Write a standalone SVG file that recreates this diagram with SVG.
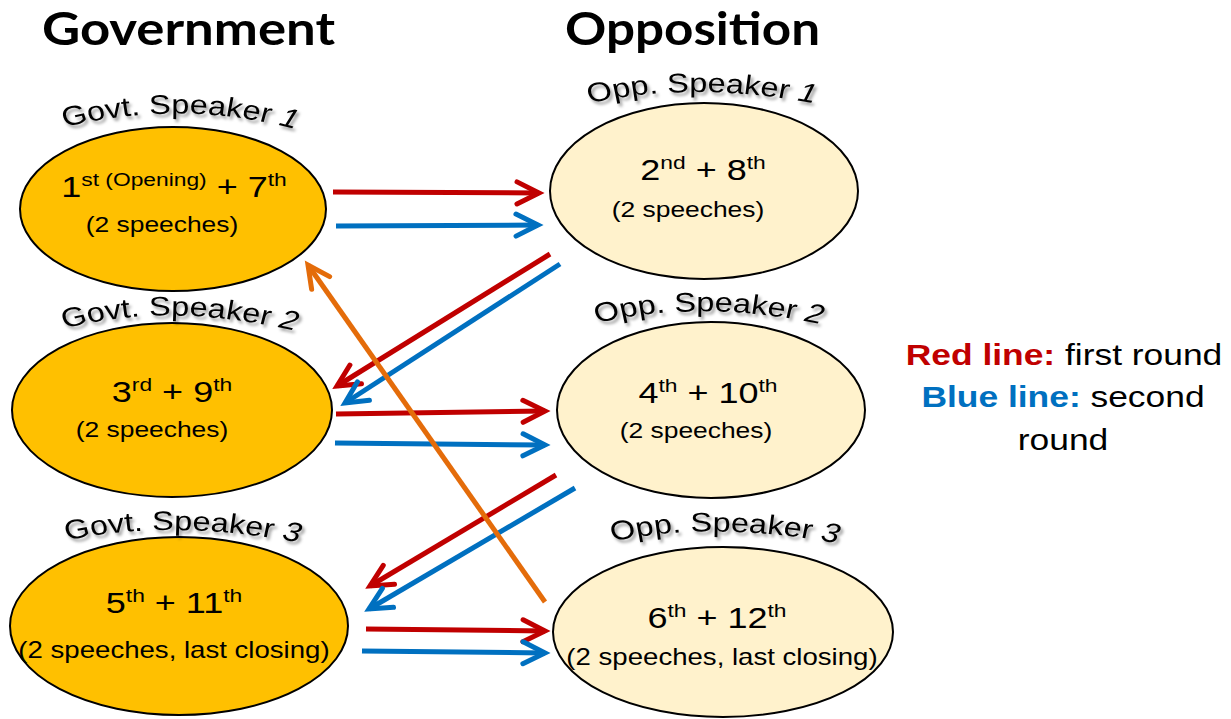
<svg xmlns="http://www.w3.org/2000/svg" width="1231" height="719" viewBox="0 0 1231 719">
<style>
.gov{fill:#FFC000;stroke:#000;stroke-width:2}
.opp{fill:#FFF2CC;stroke:#000;stroke-width:2}
.t{font-family:"Liberation Sans",Arial,sans-serif;fill:#000;text-anchor:middle}
.big{font-size:30px}
.sup{font-size:19px}
.sm{font-size:22px}
.sm2{font-size:23px}
.lab{font-family:"Liberation Sans",Arial,sans-serif;font-size:27px;fill:#000;filter:url(#sh)}
.title{font-family:Lato,"Open Sans",sans-serif;font-weight:bold;font-size:46px;fill:#000}
.leg{font-family:"Liberation Sans",Arial,sans-serif;font-size:30px;text-anchor:middle}
.r{stroke:#C00000;stroke-width:5;fill:none;marker-end:url(#ar)}
.b{stroke:#0070C0;stroke-width:5;fill:none;marker-end:url(#ab)}
.o{stroke:#E46C0A;stroke-width:5;fill:none;marker-end:url(#ao)}
</style>
<defs>
<filter id="sh" x="-10%" y="-30%" width="130%" height="180%">
<feDropShadow dx="2" dy="3" stdDeviation="1.5" flood-color="#000" flood-opacity="0.4"/>
</filter>
<marker id="ar" markerUnits="userSpaceOnUse" viewBox="0 0 34 34" refX="27" refY="17" markerWidth="34" markerHeight="34" orient="auto">
<path d="M5,6 L27,17 L5,28" fill="none" stroke="#C00000" stroke-width="5" stroke-linecap="round" stroke-linejoin="miter"/>
</marker>
<marker id="ab" markerUnits="userSpaceOnUse" viewBox="0 0 34 34" refX="27" refY="17" markerWidth="34" markerHeight="34" orient="auto">
<path d="M5,6 L27,17 L5,28" fill="none" stroke="#0070C0" stroke-width="5" stroke-linecap="round" stroke-linejoin="miter"/>
</marker>
<marker id="ao" markerUnits="userSpaceOnUse" viewBox="0 0 34 34" refX="27" refY="17" markerWidth="34" markerHeight="34" orient="auto">
<path d="M5,6 L27,17 L5,28" fill="none" stroke="#E46C0A" stroke-width="5" stroke-linecap="round" stroke-linejoin="miter"/>
</marker>
<path id="pg1" d="M-102,129 Q0,97 102,131"/>
<path id="po1" d="M-96,104 Q-10,80 96,104"/>
<path id="pg2" d="M-100,330 Q-12,300 100,332"/>
<path id="po2" d="M-96,324 Q-8,298 96,325"/>
<path id="pg3" d="M-99,541 Q-11,518 99,543"/>
<path id="po3" d="M-96,542 Q-10,520 96,544"/>
</defs>
<rect width="1231" height="719" fill="#fff"/>

<g id="titles">
<text class="title" x="42" y="45" textLength="293" lengthAdjust="spacingAndGlyphs">Government</text>
<text class="title" x="565" y="45" textLength="255" lengthAdjust="spacingAndGlyphs">Opposition</text>
</g>

<g id="gov1">
<ellipse class="gov" cx="173" cy="209" rx="153" ry="82"/>
<g transform="translate(180 0) scale(1.2 1)"><text class="lab"><textPath href="#pg1" startOffset="50%" text-anchor="middle">Govt. Speaker <tspan font-style="italic">1</tspan></textPath></text></g>
<g transform="translate(174 0) scale(1.2 1)"><text class="t big" x="0" y="197">1<tspan class="sup" dy="-11">st (Opening)</tspan><tspan dy="11"> + 7</tspan><tspan class="sup" dy="-11">th</tspan></text></g>
<g transform="translate(162 0) scale(1.2 1)"><text class="t sm" x="0" y="232">(2 speeches)</text></g>
</g>

<g id="opp1">
<ellipse class="opp" cx="704" cy="191" rx="154" ry="88"/>
<g transform="translate(702 0) scale(1.2 1)"><text class="lab"><textPath href="#po1" startOffset="50%" text-anchor="middle">Opp. Speaker <tspan font-style="italic">1</tspan></textPath></text></g>
<g transform="translate(703 0) scale(1.2 1)"><text class="t big" x="0" y="180">2<tspan class="sup" dy="-11">nd</tspan><tspan dy="11"> + 8</tspan><tspan class="sup" dy="-11">th</tspan></text></g>
<g transform="translate(688 0) scale(1.2 1)"><text class="t sm" x="0" y="217">(2 speeches)</text></g>
</g>

<g id="gov2">
<ellipse class="gov" cx="172" cy="410" rx="160" ry="87"/>
<g transform="translate(180 0) scale(1.2 1)"><text class="lab"><textPath href="#pg2" startOffset="50%" text-anchor="middle">Govt. Speaker <tspan font-style="italic">2</tspan></textPath></text></g>
<g transform="translate(172 0) scale(1.2 1)"><text class="t big" x="0" y="402">3<tspan class="sup" dy="-11">rd</tspan><tspan dy="11"> + 9</tspan><tspan class="sup" dy="-11">th</tspan></text></g>
<g transform="translate(152 0) scale(1.2 1)"><text class="t sm" x="0" y="437">(2 speeches)</text></g>
</g>

<g id="opp2">
<ellipse class="opp" cx="711" cy="410" rx="154" ry="88"/>
<g transform="translate(709 0) scale(1.2 1)"><text class="lab"><textPath href="#po2" startOffset="50%" text-anchor="middle">Opp. Speaker <tspan font-style="italic">2</tspan></textPath></text></g>
<g transform="translate(708 0) scale(1.2 1)"><text class="t big" x="0" y="403">4<tspan class="sup" dy="-11">th</tspan><tspan dy="11"> + 10</tspan><tspan class="sup" dy="-11">th</tspan></text></g>
<g transform="translate(696 0) scale(1.2 1)"><text class="t sm" x="0" y="438">(2 speeches)</text></g>
</g>

<g id="gov3">
<ellipse class="gov" cx="179" cy="626" rx="169" ry="89"/>
<g transform="translate(183 0) scale(1.2 1)"><text class="lab"><textPath href="#pg3" startOffset="50%" text-anchor="middle">Govt. Speaker <tspan font-style="italic">3</tspan></textPath></text></g>
<g transform="translate(174 0) scale(1.2 1)"><text class="t big" x="0" y="613">5<tspan class="sup" dy="-11">th</tspan><tspan dy="11"> + 11</tspan><tspan class="sup" dy="-11">th</tspan></text></g>
<g transform="translate(174 0) scale(1.2 1)"><text class="t sm2" x="0" y="658">(2 speeches, last closing)</text></g>
</g>

<g id="opp3">
<ellipse class="opp" cx="723" cy="632" rx="170" ry="85"/>
<g transform="translate(725 0) scale(1.2 1)"><text class="lab"><textPath href="#po3" startOffset="50%" text-anchor="middle">Opp. Speaker <tspan font-style="italic">3</tspan></textPath></text></g>
<g transform="translate(717 0) scale(1.2 1)"><text class="t big" x="0" y="628">6<tspan class="sup" dy="-11">th</tspan><tspan dy="11"> + 12</tspan><tspan class="sup" dy="-11">th</tspan></text></g>
<g transform="translate(722 0) scale(1.2 1)"><text class="t sm2" x="0" y="665">(2 speeches, last closing)</text></g>
</g>

<g id="connectors">
<line class="r" x1="333" y1="192" x2="539" y2="193"/>
<line class="b" x1="336" y1="226" x2="538" y2="225"/>
<line class="r" x1="550" y1="254" x2="337" y2="386"/>
<line class="b" x1="560" y1="264" x2="345" y2="403"/>
<line class="r" x1="336" y1="414" x2="545" y2="411"/>
<line class="b" x1="335" y1="443" x2="545" y2="445"/>
<line class="r" x1="556" y1="475" x2="370" y2="586"/>
<line class="b" x1="575" y1="488" x2="369" y2="609"/>
<line class="r" x1="366" y1="629" x2="545" y2="631"/>
<line class="b" x1="362" y1="651" x2="545" y2="653"/>
<line class="o" x1="545" y1="602" x2="308" y2="265"/>
</g>

<g id="legend">
<g transform="translate(1064 0) scale(1.18 1)"><text class="leg" x="0" y="365"><tspan font-weight="bold" fill="#C00000">Red line:</tspan><tspan fill="#000"> first round</tspan></text></g>
<g transform="translate(1063 0) scale(1.18 1)"><text class="leg" x="0" y="407"><tspan font-weight="bold" fill="#0070C0">Blue line:</tspan><tspan fill="#000"> second</tspan></text></g>
<g transform="translate(1063 0) scale(1.18 1)"><text class="leg" x="0" y="450" fill="#000">round</text></g>
</g>
</svg>
